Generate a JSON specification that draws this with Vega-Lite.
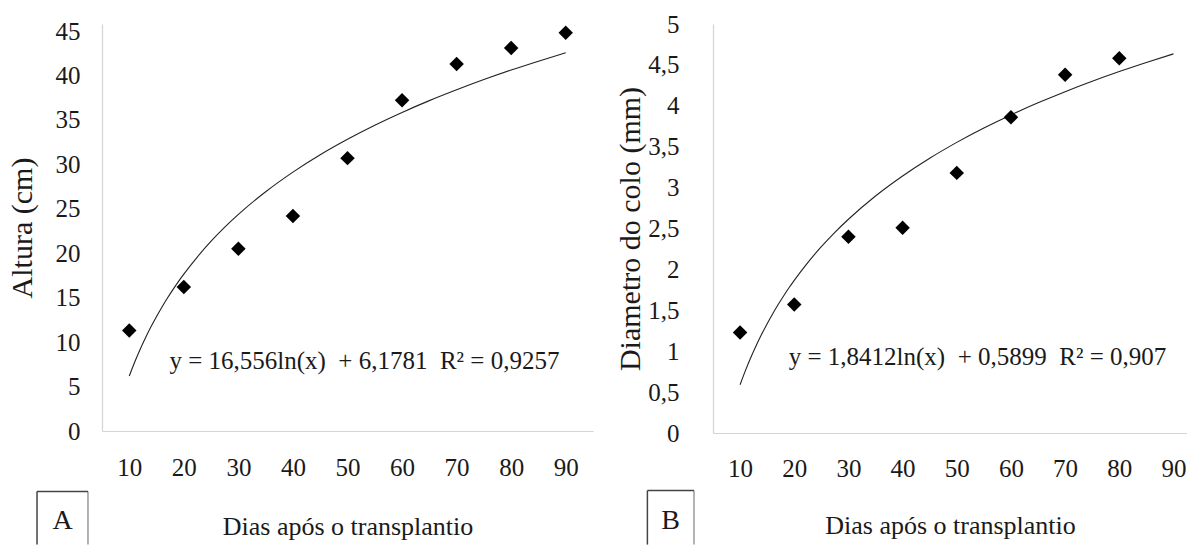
{
  "$schema": "https://vega.github.io/schema/vega-lite/v6.json",
  "background": "white",
  "padding": {"left": 7, "top": 12, "right": 0, "bottom": 0},
  "spacing": 22,
  "config": {
    "view": {"stroke": null},
    "font": "Liberation Serif",
    "text": {"font": "Liberation Serif"},
    "axis": {
      "labelFont": "Liberation Serif",
      "titleFont": "Liberation Serif",
      "titleFontWeight": "normal",
      "labelColor": "#1a1a1a",
      "titleColor": "#1a1a1a",
      "domainColor": "#d4d4d4",
      "domainWidth": 1.2,
      "grid": false,
      "ticks": false,
      "labelFontSize": 25,
      "titleFontSize": 30
    },
    "axisX": {"titleFontSize": 26}
  },
  "datasets": {
    "pointsA": [
      {"dias": 10, "valor": 11.3},
      {"dias": 20, "valor": 16.2},
      {"dias": 30, "valor": 20.5},
      {"dias": 40, "valor": 24.2},
      {"dias": 50, "valor": 30.7},
      {"dias": 60, "valor": 37.2},
      {"dias": 70, "valor": 41.3},
      {"dias": 80, "valor": 43.1},
      {"dias": 90, "valor": 44.8}
    ],
    "curveA": [
      {"dias": 10, "valor": 6.18},
      {"dias": 11, "valor": 7.76},
      {"dias": 12, "valor": 9.2},
      {"dias": 13, "valor": 10.52},
      {"dias": 14, "valor": 11.75},
      {"dias": 15, "valor": 12.89},
      {"dias": 16, "valor": 13.96},
      {"dias": 17, "valor": 14.96},
      {"dias": 18, "valor": 15.91},
      {"dias": 19, "valor": 16.81},
      {"dias": 20, "valor": 17.65},
      {"dias": 22.5, "valor": 19.6},
      {"dias": 25, "valor": 21.35},
      {"dias": 27.5, "valor": 22.93},
      {"dias": 30, "valor": 24.37},
      {"dias": 35, "valor": 26.92},
      {"dias": 40, "valor": 29.13},
      {"dias": 45, "valor": 31.08},
      {"dias": 50, "valor": 32.82},
      {"dias": 55, "valor": 34.4},
      {"dias": 60, "valor": 35.84},
      {"dias": 65, "valor": 37.17},
      {"dias": 70, "valor": 38.39},
      {"dias": 75, "valor": 39.54},
      {"dias": 80, "valor": 40.61},
      {"dias": 85, "valor": 41.61},
      {"dias": 90, "valor": 42.56}
    ],
    "pointsB": [
      {"dias": 10, "valor": 1.23},
      {"dias": 20, "valor": 1.57},
      {"dias": 30, "valor": 2.4},
      {"dias": 40, "valor": 2.51},
      {"dias": 50, "valor": 3.18},
      {"dias": 60, "valor": 3.86},
      {"dias": 70, "valor": 4.38},
      {"dias": 80, "valor": 4.58}
    ],
    "curveB": [
      {"dias": 10, "valor": 0.59},
      {"dias": 11, "valor": 0.765},
      {"dias": 12, "valor": 0.926},
      {"dias": 13, "valor": 1.073},
      {"dias": 14, "valor": 1.209},
      {"dias": 15, "valor": 1.336},
      {"dias": 16, "valor": 1.455},
      {"dias": 17, "valor": 1.567},
      {"dias": 18, "valor": 1.672},
      {"dias": 19, "valor": 1.772},
      {"dias": 20, "valor": 1.866},
      {"dias": 22.5, "valor": 2.083},
      {"dias": 25, "valor": 2.277},
      {"dias": 27.5, "valor": 2.453},
      {"dias": 30, "valor": 2.613},
      {"dias": 35, "valor": 2.897},
      {"dias": 40, "valor": 3.142},
      {"dias": 45, "valor": 3.359},
      {"dias": 50, "valor": 3.553},
      {"dias": 55, "valor": 3.729},
      {"dias": 60, "valor": 3.889},
      {"dias": 65, "valor": 4.036},
      {"dias": 70, "valor": 4.173},
      {"dias": 75, "valor": 4.3},
      {"dias": 80, "valor": 4.419},
      {"dias": 85, "valor": 4.53},
      {"dias": 90, "valor": 4.635}
    ],
    "labelA": [{"painel": "A", "eq": "y = 16,556ln(x) \u00a0+ 6,1781 \u00a0R² = 0,9257"}],
    "labelB": [{"painel": "B", "eq": "y = 1,8412ln(x) \u00a0+ 0,5899 \u00a0R² = 0,907"}]
  },
  "hconcat": [
    {
      "width": 491,
      "height": 407,
      "layer": [
        {"data": {"name": "curveA"}, "mark": {"type": "line", "color": "#222222", "strokeWidth": 1.1, "interpolate": "monotone"},
          "encoding": {
            "x": {
              "field": "dias", "type": "quantitative",
              "scale": {"domain": [5, 95], "nice": false, "zero": false},
              "axis": {"values": [10, 20, 30, 40, 50, 60, 70, 80, 90], "labelFont": "Liberation Serif", "labelPadding": 24, "title": "Dias após o transplantio", "titlePadding": 33}
            },
            "y": {
              "field": "valor", "type": "quantitative",
              "scale": {"domain": [0, 45.79], "nice": false},
              "axis": {"values": [0, 5, 10, 15, 20, 25, 30, 35, 40, 45], "labelFont": "Liberation Serif", "labelPadding": 22, "title": "Altura (cm)", "titlePadding": 18}
            }
          }},
        {"data": {"name": "pointsA"}, "mark": {"type": "point", "shape": "diamond", "filled": true, "color": "#000000", "opacity": 1, "size": 210},
          "encoding": {"x": {"field": "dias", "type": "quantitative"}, "y": {"field": "valor", "type": "quantitative"}}},
        {"data": {"name": "labelA"}, "mark": {"type": "text", "font": "Liberation Serif", "fontSize": 25, "color": "#1a1a1a", "align": "center", "baseline": "middle"},
          "encoding": {"x": {"datum": 53.1}, "y": {"datum": 7.92}, "text": {"field": "eq"}}},
        {"data": {"name": "labelA"}, "mark": {"type": "rule", "color": "#444444", "strokeWidth": 1.5},
          "encoding": {"x": {"datum": -6.91}, "y": {"datum": -6.82}, "y2": {"datum": -12.78}}},
        {"data": {"name": "labelA"}, "mark": {"type": "rule", "color": "#999999", "strokeWidth": 1.5},
          "encoding": {"x": {"datum": 2.43}, "y": {"datum": -6.82}, "y2": {"datum": -12.78}}},
        {"data": {"name": "labelA"}, "mark": {"type": "rule", "color": "#444444", "strokeWidth": 1.5},
          "encoding": {"x": {"datum": -6.91}, "x2": {"datum": 2.43}, "y": {"datum": -6.82}}},
        {"data": {"name": "labelA"}, "mark": {"type": "text", "font": "Liberation Serif", "fontSize": 28, "color": "#1a1a1a", "align": "center", "baseline": "middle"},
          "encoding": {"x": {"datum": -2.2}, "y": {"datum": -10.16}, "text": {"field": "painel"}}}
      ]
    },
    {
      "width": 474,
      "height": 409,
      "layer": [
        {"data": {"name": "curveB"}, "mark": {"type": "line", "color": "#222222", "strokeWidth": 1.1, "interpolate": "monotone"},
          "encoding": {
            "x": {
              "field": "dias", "type": "quantitative",
              "scale": {"domain": [5, 92.5], "nice": false, "zero": false},
              "axis": {"values": [10, 20, 30, 40, 50, 60, 70, 80, 90], "labelFont": "Liberation Serif", "labelPadding": 23, "title": "Dias após o transplantio", "titlePadding": 31}
            },
            "y": {
              "field": "valor", "type": "quantitative",
              "scale": {"domain": [0, 5], "nice": false},
              "axis": {"values": [0, 0.5, 1, 1.5, 2, 2.5, 3, 3.5, 4, 4.5, 5], "labelFont": "Liberation Serif", "labelExpr": "replace(format(datum.value, '~g'), '.', ',')", "labelPadding": 34, "title": "Diametro  do colo (mm)", "titlePadding": 2}
            }
          }},
        {"data": {"name": "pointsB"}, "mark": {"type": "point", "shape": "diamond", "filled": true, "color": "#000000", "opacity": 1, "size": 210},
          "encoding": {"x": {"field": "dias", "type": "quantitative"}, "y": {"field": "valor", "type": "quantitative"}}},
        {"data": {"name": "labelB"}, "mark": {"type": "text", "font": "Liberation Serif", "fontSize": 25, "color": "#1a1a1a", "align": "center", "baseline": "middle"},
          "encoding": {"x": {"datum": 53.83}, "y": {"datum": 0.934}, "text": {"field": "eq"}}},
        {"data": {"name": "labelB"}, "mark": {"type": "rule", "color": "#444444", "strokeWidth": 1.5},
          "encoding": {"x": {"datum": -7.11}, "y": {"datum": -0.704}, "y2": {"datum": -1.364}}},
        {"data": {"name": "labelB"}, "mark": {"type": "rule", "color": "#999999", "strokeWidth": 1.5},
          "encoding": {"x": {"datum": 1.49}, "y": {"datum": -0.704}, "y2": {"datum": -1.364}}},
        {"data": {"name": "labelB"}, "mark": {"type": "rule", "color": "#444444", "strokeWidth": 1.5},
          "encoding": {"x": {"datum": -7.11}, "x2": {"datum": 1.49}, "y": {"datum": -0.704}}},
        {"data": {"name": "labelB"}, "mark": {"type": "text", "font": "Liberation Serif", "fontSize": 28, "color": "#1a1a1a", "align": "center", "baseline": "middle"},
          "encoding": {"x": {"datum": -2.85}, "y": {"datum": -1.08}, "text": {"field": "painel"}}}
      ]
    }
  ]
}
